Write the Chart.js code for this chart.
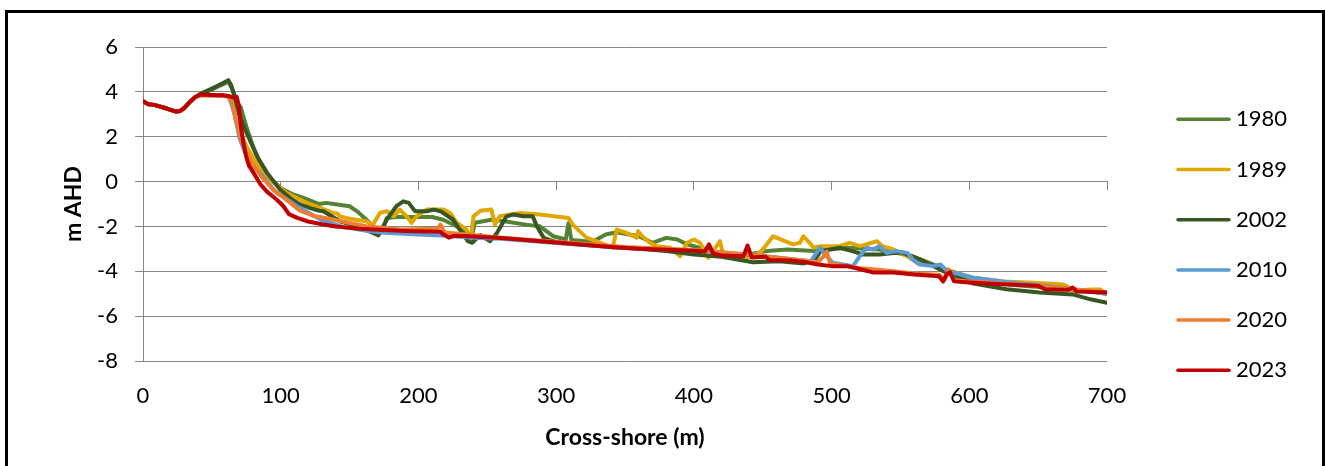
<!DOCTYPE html>
<html><head><meta charset="utf-8">
<script src="https://cdn.jsdelivr.net/npm/chart.js@4.4.1/dist/chart.umd.min.js"></script>
<style>html,body{margin:0;padding:0;background:#fff;} #wrap{position:relative;width:1325px;height:466px;}</style>
</head><body><div id="wrap"><canvas id="c"></canvas></div>
<script>
// ---- data ----
const years = ['1980','1989','2002','2010','2020','2023'];
const xTicks = [0,100,200,300,400,500,600,700];
const yTicks = [-8,-6,-4,-2,0,2,4,6];

// shared beach section (distance m, elevation m AHD)
const beach = [[0,3.58],[4,3.45],[8,3.42],[12,3.35],[16,3.28],[20,3.2],[24,3.12],[27,3.15],[30,3.28],[34,3.55],[38,3.77]];

const s1980 = beach.concat([[42,3.9],[50,4.1],[56,4.28],[62,4.45],[65,4.1],[68,3.55],[71,3.3],[75,2.46],[80,1.55],[85,0.85],[90,0.3],[100,-0.3],[108,-0.55],[116,-0.72],[128,-1.0],[133,-0.95],[141,-1.02],[150,-1.1],[156,-1.35],[162,-1.69],[167,-1.99],[172,-2.29],[175,-2.0],[177,-1.62],[185,-1.58],[210,-1.58],[218,-1.7],[228,-2.0],[235,-2.3],[238,-2.66],[241,-1.84],[254,-1.69],[278,-1.92],[288,-1.99],[298,-2.44],[307,-2.58],[309,-1.85],[311,-2.6],[320,-2.65],[327,-2.66],[336,-2.36],[344,-2.26],[352,-2.35],[360,-2.44],[370,-2.73],[380,-2.51],[388,-2.58],[395,-2.8],[409,-3.03],[420,-3.2],[435,-3.3],[446,-3.18],[453,-3.1],[468,-3.03],[487,-3.1],[511,-2.95],[535,-3.03],[547,-3.18],[559,-3.33],[571,-3.62],[583,-3.92],[603,-4.36],[630,-4.6],[660,-4.75],[680,-4.85],[700,-5.0]]);

const s1989 = beach.concat([[42,3.86],[50,3.85],[58,3.84],[62,3.82],[65,3.6],[67,2.8],[68.5,2.45],[72,2.0],[75,1.6],[80,1.05],[85,0.6],[90,0.2],[95,-0.06],[104,-0.5],[114,-0.8],[119,-0.95],[128.5,-1.17],[138,-1.4],[141,-1.42],[143,-1.55],[150,-1.66],[162,-1.77],[167,-1.92],[172,-1.4],[177,-1.32],[182,-1.55],[186.5,-1.25],[191.5,-1.55],[195,-1.84],[198.5,-1.55],[206,-1.25],[218,-1.25],[223,-1.4],[228,-1.84],[235,-2.14],[238,-2.58],[240,-1.55],[245,-1.3],[253,-1.25],[255.5,-1.92],[259,-1.55],[274,-1.4],[288,-1.47],[309,-1.62],[312,-1.92],[322,-2.5],[329,-2.66],[341,-2.95],[344,-2.14],[351,-2.29],[358.5,-2.5],[359.5,-2.21],[362,-2.4],[368,-2.73],[373,-2.88],[383,-2.95],[390,-3.33],[395,-2.73],[400,-2.58],[404.5,-2.73],[410.5,-3.4],[416.5,-2.88],[419,-2.66],[421,-3.18],[428,-3.3],[438,-3.4],[448,-3.18],[457.5,-2.44],[463,-2.58],[472,-2.8],[477,-2.73],[479.5,-2.44],[484,-2.73],[487,-2.95],[491.5,-2.88],[506,-2.88],[513,-2.73],[520.5,-2.88],[525,-2.8],[533,-2.66],[537,-2.88],[545,-3.03],[555,-3.33],[562,-3.62],[567,-3.55],[574,-3.77],[583,-3.92],[603,-4.29],[625,-4.45],[647,-4.51],[668,-4.59],[671,-4.66],[675,-4.9],[688,-4.81],[695,-4.81],[700,-5.03]]);

const s2002 = beach.concat([[42,3.92],[50,4.15],[56,4.33],[62,4.52],[64,4.3],[66,3.9],[70,2.95],[75,2.2],[83,1.1],[90,0.4],[99.5,-0.36],[108,-0.8],[114,-1.02],[121,-1.17],[128,-1.3],[131,-1.32],[143,-1.77],[155,-1.99],[167,-2.29],[171,-2.4],[177,-1.69],[184,-1.1],[189,-0.88],[193,-0.95],[197.5,-1.32],[206,-1.32],[211,-1.25],[216,-1.32],[225,-1.69],[230,-2.14],[236,-2.66],[239,-2.73],[245,-2.38],[252,-2.66],[257,-2.29],[264,-1.55],[269,-1.47],[276,-1.55],[283,-1.55],[286,-1.99],[291,-2.51],[300,-2.7],[320,-2.82],[340,-2.92],[360,-3.0],[380,-3.1],[400,-3.25],[420,-3.35],[443,-3.6],[462,-3.55],[480,-3.65],[488,-3.5],[492,-3.1],[506,-2.95],[515,-3.1],[523,-3.25],[535,-3.25],[550,-3.15],[564,-3.47],[574,-3.77],[583,-4.05],[603,-4.55],[627,-4.8],[651,-4.95],[675,-5.03],[688,-5.25],[700,-5.4]]);

const s2010 = beach.concat([[42,3.85],[50,3.84],[58,3.83],[62,3.78],[64,3.5],[67,2.9],[70,1.95],[74,1.3],[78,0.85],[83,0.5],[87,0.24],[92,-0.15],[97,-0.5],[107,-0.9],[113,-1.15],[119,-1.35],[130,-1.72],[145,-2.02],[160,-2.17],[175,-2.28],[200,-2.36],[220,-2.42],[240,-2.5],[260,-2.55],[300,-2.74],[350,-2.96],[400,-3.07],[440,-3.26],[470,-3.45],[485,-3.55],[489,-3.18],[491.5,-2.95],[496.5,-3.33],[501,-3.62],[515.5,-3.77],[520.5,-3.33],[525.5,-2.95],[530,-3.03],[535,-2.88],[540,-3.18],[547,-3.1],[555,-3.18],[559,-3.47],[564,-3.7],[574,-3.77],[579,-3.7],[584,-3.99],[603,-4.29],[630,-4.5],[660,-4.68],[680,-4.85],[700,-5.0]]);

const s2020 = beach.concat([[42,3.85],[50,3.84],[58,3.83],[62,3.8],[64.5,3.55],[67,2.9],[71,1.9],[75,1.3],[79,0.85],[85,0.3],[90,-0.05],[95,-0.4],[100,-0.6],[105,-0.85],[114,-1.3],[125,-1.55],[138,-1.69],[150,-1.85],[162,-1.99],[187,-2.14],[214,-2.1],[216,-1.92],[219,-2.27],[235,-2.36],[260,-2.5],[300,-2.68],[350,-2.92],[400,-3.05],[440,-3.25],[470,-3.45],[490,-3.6],[494,-3.35],[496.5,-3.12],[499,-3.65],[520,-3.85],[545,-4.0],[560,-4.1],[578,-4.15],[582,-4.35],[585,-3.92],[589,-4.4],[600,-4.45],[650,-4.65],[700,-4.95]]);

const s2023 = beach.concat([[42,3.88],[50,3.86],[58,3.85],[62,3.82],[65,3.75],[68,3.78],[69.5,3.4],[71,2.5],[73,1.7],[75,1.1],[77,0.7],[80,0.42],[85,-0.1],[90,-0.45],[97,-0.8],[102,-1.1],[106,-1.45],[112,-1.62],[120,-1.78],[130,-1.9],[140,-2.0],[160,-2.12],[190,-2.2],[216,-2.24],[218,-2.35],[222,-2.5],[226,-2.42],[240,-2.45],[260,-2.52],[280,-2.62],[300,-2.72],[320,-2.82],[340,-2.92],[360,-3.0],[380,-3.04],[400,-3.08],[408,-3.12],[411,-2.8],[414,-3.2],[420,-3.3],[436,-3.33],[439,-2.85],[442,-3.38],[452,-3.35],[455,-3.5],[470,-3.52],[480,-3.58],[490,-3.7],[500,-3.77],[512,-3.78],[520,-3.9],[530,-4.05],[545,-4.05],[560,-4.14],[578,-4.22],[581,-4.45],[584,-4.1],[586,-4.05],[589,-4.45],[600,-4.5],[620,-4.57],[650,-4.65],[655,-4.8],[665,-4.82],[672,-4.82],[675,-4.72],[678,-4.9],[690,-4.92],[700,-4.95]]);

const seriesList = [s1980, s1989, s2002, s2010, s2020, s2023];
const lineColors = ['#548235','#E2A600','#375623','#5B9BD5','#ED7D31','#C00000'];

// ---- chart ----
const FONT = 'Lato';
const GRID = '#868686';

const legendPlugin = {
  id: 'sideLegend',
  afterDraw(chart) {
    const ctx = chart.ctx;
    ctx.save();
    chart.data.datasets.forEach((ds, i) => {
      const y = 119.3 + i * 50.2;
      ctx.strokeStyle = ds.borderColor;
      ctx.lineWidth = 3.5;
      ctx.lineCap = 'round';
      ctx.beginPath(); ctx.moveTo(1178, y); ctx.lineTo(1229, y); ctx.stroke();
      ctx.fillStyle = '#000';
      ctx.font = '22px ' + FONT;
      ctx.textBaseline = 'middle';
      ctx.textAlign = 'left';
      ctx.fillText(ds.label, 1236, y);
    });
    ctx.restore();
  }
};
const framePlugin = {
  id: 'frame',
  beforeDraw(chart) {
    const ctx = chart.ctx;
    ctx.save(); ctx.fillStyle = '#fff'; ctx.fillRect(0, 0, chart.width, chart.height); ctx.restore();
  },
  afterDraw(chart) {
    const ctx = chart.ctx;
    ctx.save(); ctx.strokeStyle = '#000'; ctx.lineWidth = 3;
    ctx.strokeRect(6.5, 11.5, 1317, 480); ctx.restore();
  }
};

const setTicks = (arr) => (scale) => { scale.ticks = arr.map(v => ({value: v})); };

new Chart(document.getElementById('c'), {
  type: 'line',
  data: {
    datasets: seriesList.map((s, i) => ({
      label: years[i],
      data: s.map(p => ({x: p[0], y: p[1]})),
      borderColor: lineColors[i],
      backgroundColor: lineColors[i],
      borderWidth: 4,
      pointRadius: 0,
      pointHoverRadius: 0,
      fill: false,
      tension: 0,
      borderJoinStyle: 'round',
      borderCapStyle: 'round',
      order: seriesList.length - i
    }))
  },
  options: {
    responsive: true,
    maintainAspectRatio: false,
    animation: false,
    events: [],
    layout: { padding: { left: 0, top: 47, right: 218, bottom: 0 } },
    plugins: { legend: { display: false }, tooltip: { enabled: false } },
    scales: {
      x: {
        type: 'linear', position: 'bottom', min: 0, max: 700,
        afterBuildTicks: setTicks(xTicks),
        grid: { display: false, drawTicks: false },
        border: { display: false },
        ticks: { font: { family: FONT, size: 22 }, color: '#000', padding: 22, maxRotation: 0, autoSkip: false },
        title: { display: true, text: 'Cross-shore (m)', color: '#000', font: { family: FONT, size: 23, weight: 'bold' }, padding: { top: 0, bottom: 15 } },
        afterFit: (s) => { s.height = 105; }
      },
      x0: {
        type: 'linear', position: { y: 0 }, min: 0, max: 700,
        afterBuildTicks: setTicks(xTicks),
        grid: { display: true, drawOnChartArea: false, drawTicks: true, tickLength: 8, color: GRID, lineWidth: 1 },
        border: { display: true, color: GRID, width: 1 },
        ticks: { display: false }
      },
      y: {
        type: 'linear', position: 'left', min: -8, max: 6,
        afterBuildTicks: setTicks(yTicks),
        grid: { color: GRID, lineWidth: 1, drawTicks: true, tickLength: 8 },
        border: { display: true, color: GRID, width: 1 },
        ticks: { font: { family: FONT, size: 22 }, color: '#000', padding: 17 },
        title: { display: true, text: 'm AHD', color: '#000', font: { family: FONT, size: 23, weight: 'bold' }, padding: { top: 60, bottom: 0 } },
        afterFit: (s) => { s.width = 143; }
      }
    }
  },
  plugins: [framePlugin, legendPlugin]
});
</script>
</body></html>
